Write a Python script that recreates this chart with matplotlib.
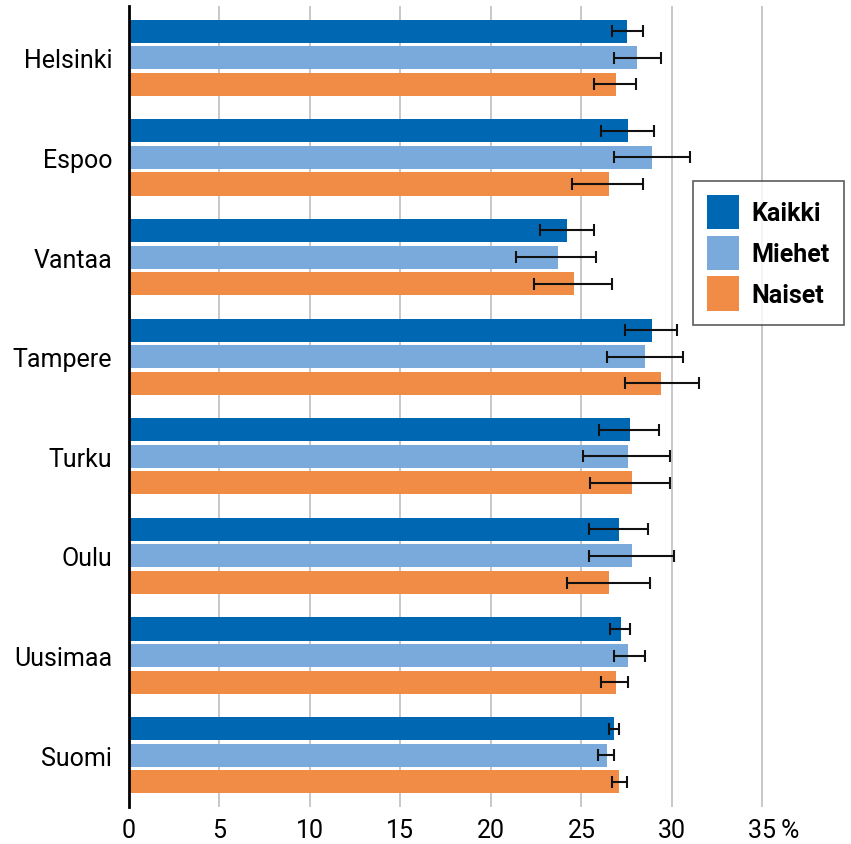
import numpy as np
import matplotlib
matplotlib.use("Agg")
import matplotlib.pyplot as plt
from matplotlib.patches import Patch
from matplotlib.transforms import ScaledTranslation

plt.rcParams['font.family'] = ['Roboto', 'DejaVu Sans']

regions = ["Helsinki", "Espoo", "Vantaa", "Tampere", "Turku", "Oulu", "Uusimaa", "Suomi"]
series = ["Kaikki", "Miehet", "Naiset"]
colors = ["#0067b3", "#7aaadb", "#f08c46"]

# share (%) with lower and upper confidence limits
kaikki = [27.5, 27.6, 24.2, 28.9, 27.7, 27.1, 27.2, 26.8]
kaikki_lo = [26.7, 26.1, 22.7, 27.4, 26.0, 25.4, 26.6, 26.5]
kaikki_hi = [28.4, 29.0, 25.7, 30.3, 29.3, 28.7, 27.7, 27.1]

miehet = [28.1, 28.9, 23.7, 28.5, 27.6, 27.8, 27.6, 26.4]
miehet_lo = [26.8, 26.8, 21.4, 26.4, 25.1, 25.4, 26.8, 25.9]
miehet_hi = [29.4, 31.0, 25.8, 30.6, 29.9, 30.1, 28.5, 26.8]

naiset = [26.9, 26.5, 24.6, 29.4, 27.8, 26.5, 26.9, 27.1]
naiset_lo = [25.7, 24.5, 22.4, 27.4, 25.5, 24.2, 26.1, 26.7]
naiset_hi = [28.0, 28.4, 26.7, 31.5, 29.9, 28.8, 27.6, 27.5]

values = [kaikki, miehet, naiset]
lows = [kaikki_lo, miehet_lo, naiset_lo]
highs = [kaikki_hi, miehet_hi, naiset_hi]

fig = plt.figure(figsize=(8.51, 8.45), dpi=100)
ax = fig.add_axes([129 / 851, 1 - 808 / 845, 1 - 129 / 851, 801 / 845])

y = np.arange(len(regions))
pitch = 0.267
height = 0.232
for i, (vals, lo, hi, c) in enumerate(zip(values, lows, highs, colors)):
    vals = np.array(vals)
    err = [vals - np.array(lo), np.array(hi) - vals]
    ax.barh(y + (i - 1) * pitch, vals, height=height, color=c, zorder=2,
            xerr=err, error_kw=dict(ecolor="#111111", elinewidth=1.5,
                                    capsize=4.6, capthick=1.5, zorder=3))

ax.set_xlim(0, 39.9)
ax.set_ylim(len(regions) - 0.48, -0.52)
ax.set_yticks(y)
ax.set_yticklabels(regions)
ticks = np.arange(0, 40, 5)
ax.set_xticks(ticks)
ax.set_xticklabels([str(t) for t in ticks[:-1]] + ["35\u2009%"])
ax.tick_params(axis="y", length=0, pad=12, labelsize=18)
ax.tick_params(axis="x", length=0, pad=8, labelsize=18)

lab = ax.get_xticklabels()[-1]
lab.set_transform(lab.get_transform() + ScaledTranslation(11 / 100, 0, fig.dpi_scale_trans))

ax.grid(axis="x", color="#c8c8c8", linewidth=1.4, zorder=0)
for s in ["top", "right", "bottom"]:
    ax.spines[s].set_visible(False)
ax.spines["left"].set_color("black")
ax.spines["left"].set_linewidth(2)
ax.spines["left"].set_zorder(4)

handles = [Patch(facecolor=c, label=s) for c, s in zip(colors, series)]
leg = fig.legend(handles=handles, loc="upper left",
                 bbox_to_anchor=(693 / 851, 1 - 182 / 845),
                 prop=dict(size=18, weight="semibold"),
                 frameon=True, fancybox=False, edgecolor="#333333",
                 handlelength=1.3, handleheight=1.75, handletextpad=0.5,
                 labelspacing=0.25, borderpad=0.55, borderaxespad=0)
leg.get_frame().set_linewidth(1.2)

fig.savefig("out.png", dpi=100)
